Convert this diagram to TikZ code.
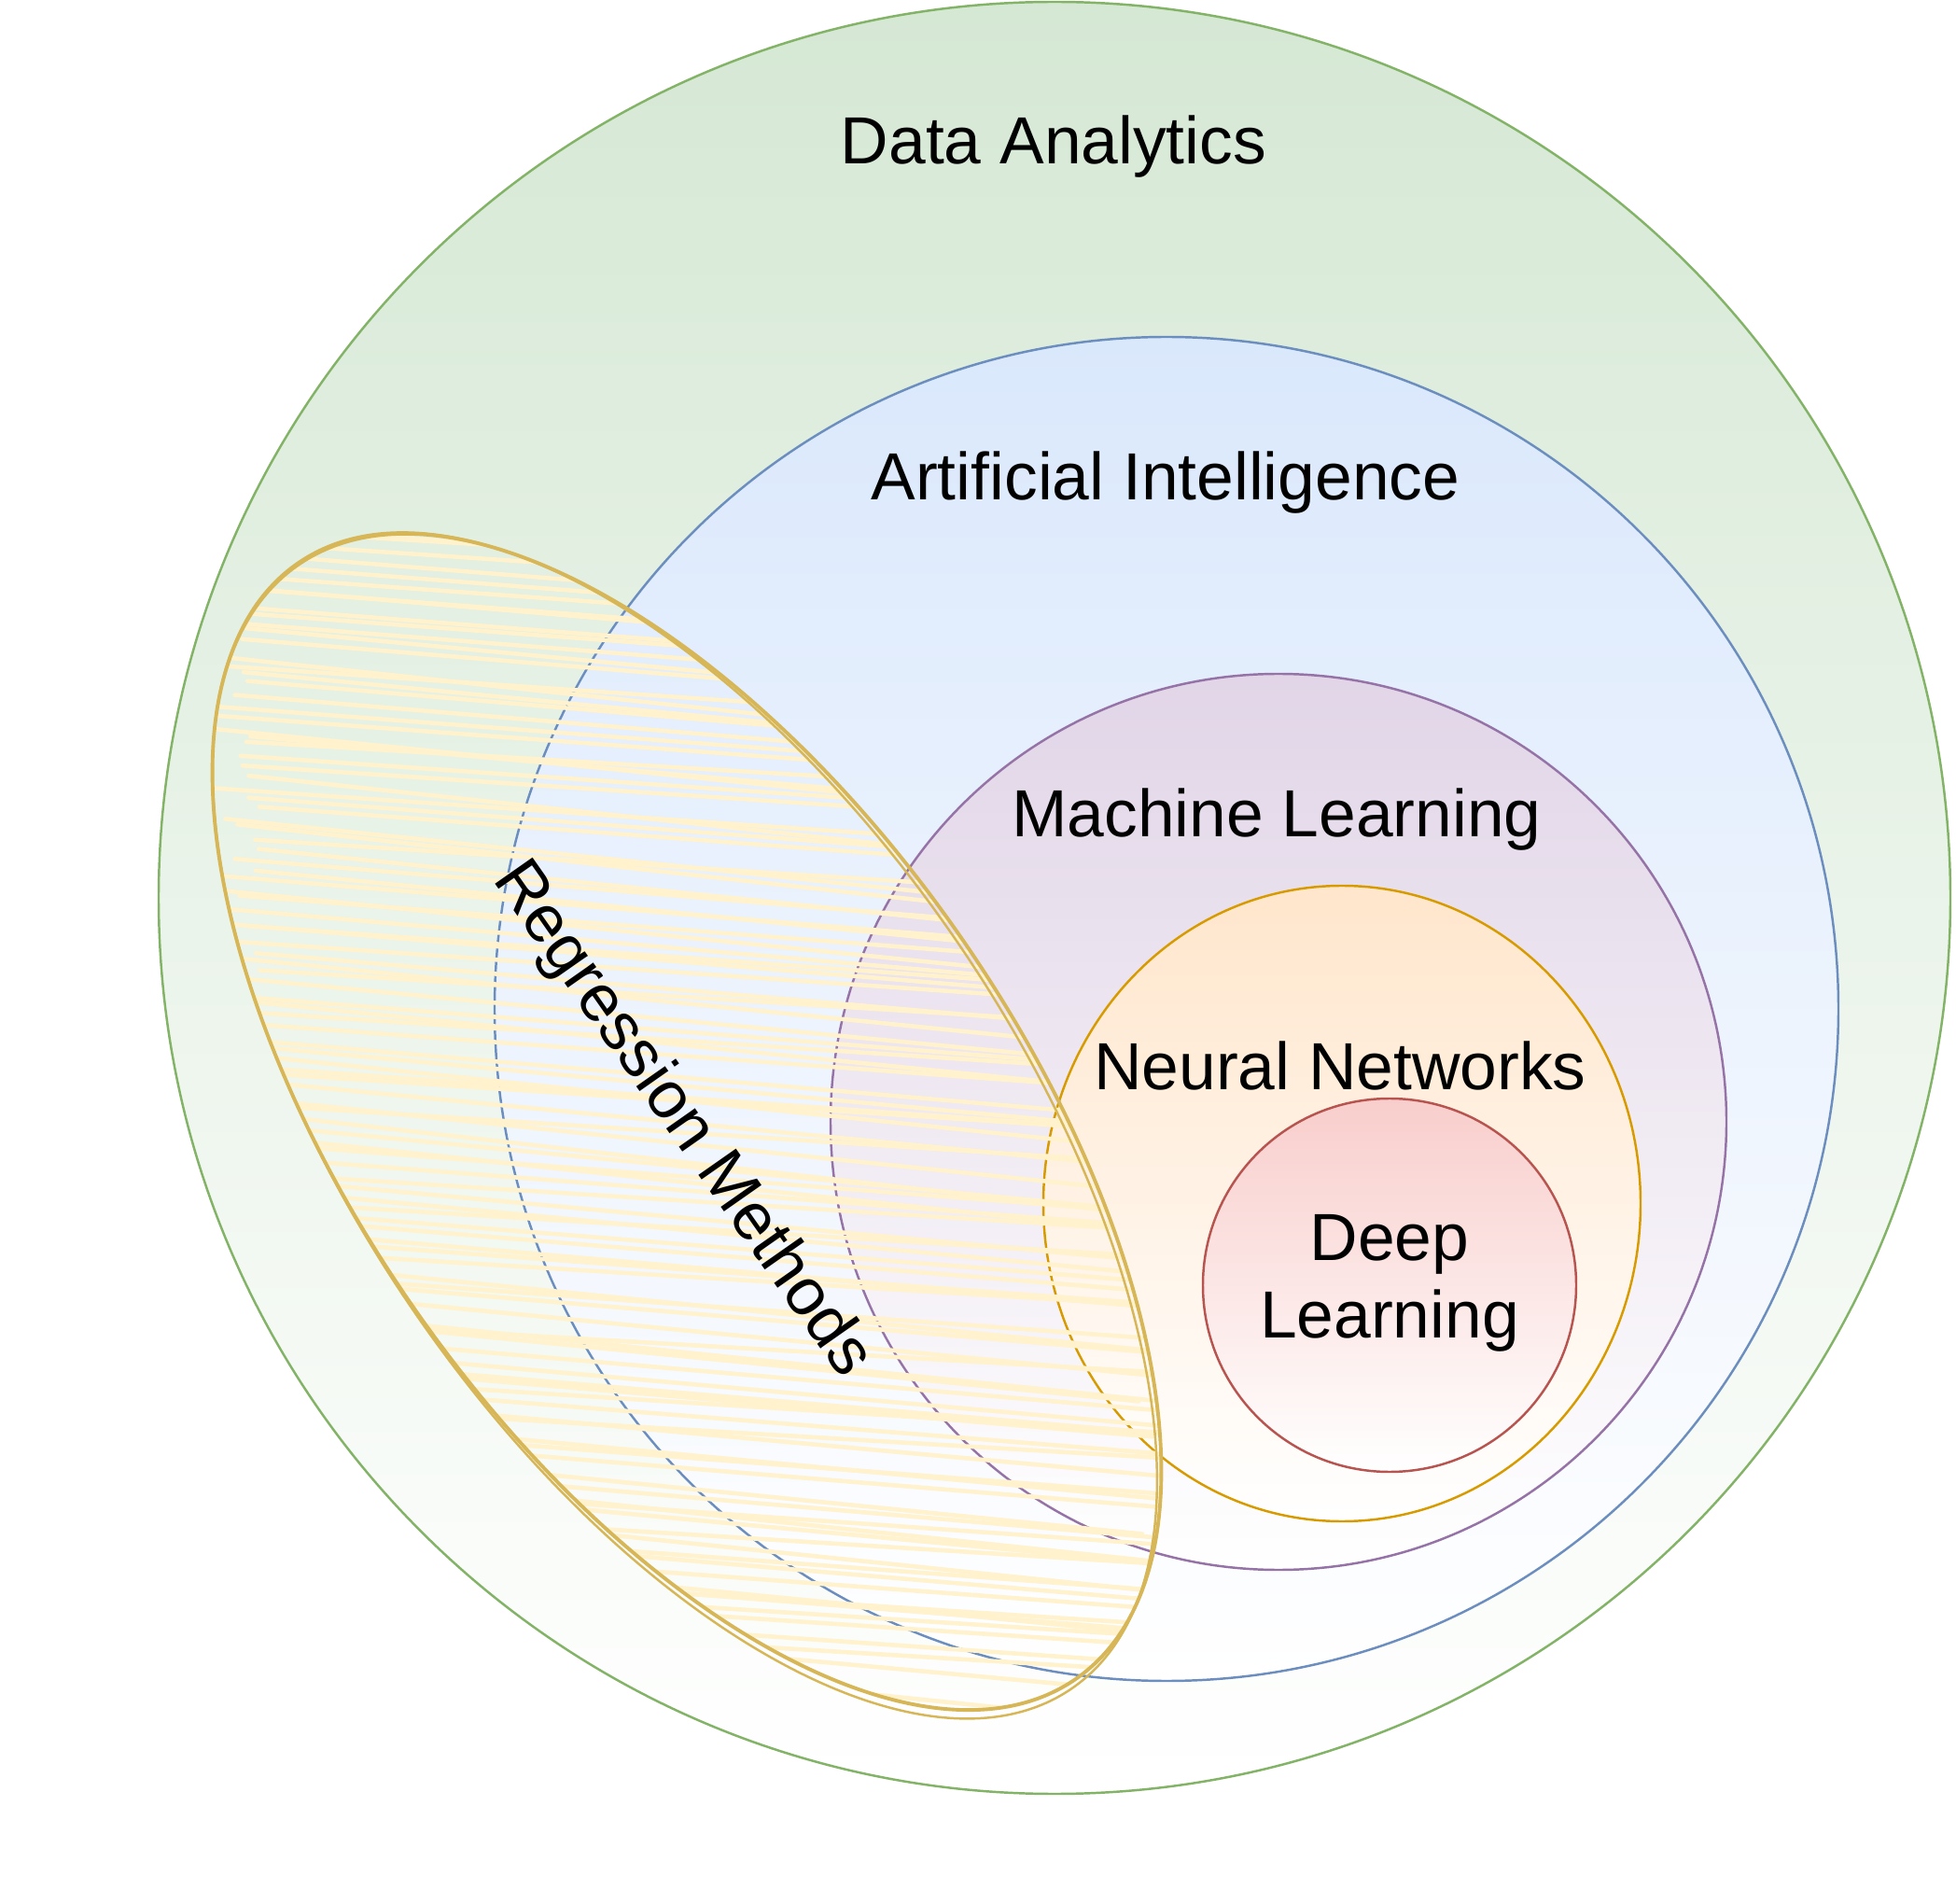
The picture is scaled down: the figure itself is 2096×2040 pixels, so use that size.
\documentclass[tikz,border=0pt]{standalone}
\usepackage{fontspec}
\setmainfont{Liberation Sans}
\usepackage{tikz}
\usetikzlibrary{calc}
\definecolor{dafill}{HTML}{D5E8D4}
\definecolor{daline}{HTML}{82B366}
\definecolor{aifill}{HTML}{DAE8FC}
\definecolor{ailine}{HTML}{6C8EBF}
\definecolor{mlfill}{HTML}{E1D5E7}
\definecolor{mlline}{HTML}{9673A6}
\definecolor{nnfill}{HTML}{FFE6CC}
\definecolor{nnline}{HTML}{D79B00}
\definecolor{dlfill}{HTML}{F8CECC}
\definecolor{dlline}{HTML}{B85450}
\definecolor{rmfill}{HTML}{FFF2CC}
\definecolor{rmline}{HTML}{D6B656}

\begin{document}
\begin{tikzpicture}[x=0.01cm,y=-0.01cm,
	venn/.style={line width=0.7pt,top color=#1fill,bottom color=white,draw=#1line},
	setname/.style={font=\fontsize{20.3}{23.7}\selectfont,inner sep=0pt,anchor=base},
	hatch/.style={rmfill,line width=1.3pt,line cap=round}]
	\fill[white] (0,0) rectangle (2096,2040);
	\useasboundingbox (0,0) rectangle (2096,2040);
	\draw[venn=da]	(1130,962) circle [radius=960];
	\draw[venn=ai]	(1250,1081) circle [radius=720];
	\draw[venn=ml]	(1370,1202) circle [radius=480];
	\draw[venn=nn]	(1438,1289.5) ellipse [x radius=320,y radius=340.5];
	\draw[venn=dl]	(1489,1377) circle [radius=200];
	\node[setname]	(datext) at (1129,176)	{Data Analytics};
	\node[setname]	(aitext) at (1249,536)	{Artificial Intelligence};
	\node[setname]	(mltext) at (1368,896.5)	{Machine Learning};
	\node[setname]	(nntext) at (1436,1168)	{Neural Networks};
	\node[setname,anchor=center,align=center]	(dltext) at (1489,1375)	{Deep\\Learning};
	\coordinate (rmc) at (736,1202);
	\begin{scope}
		\clip[rotate around={-55:(rmc)}] (rmc) ellipse [x radius=728,y radius=354];
		\pgfmathsetseed{12}
		\foreach \i in {0,...,124} {
			\pgfmathsetmacro{\ya}{490+\i*11+rand*4}
			\pgfmathsetmacro{\yb}{\ya+85+rand*25}
			\pgfmathsetmacro{\xa}{200+abs(rand)*80}
			\pgfmathsetmacro{\xb}{1300-abs(rand)*80}
			\draw[hatch] (\xa,\ya) -- (\xb,\yb);
		}
	\end{scope}
	\draw[rmline,line width=1.1pt,rotate around={-55:(rmc)}] (rmc) ellipse [x radius=728,y radius=354];
	\draw[rmline,line width=0.7pt,rotate around={-55.5:(rmc)}] ($(rmc)+(2,4)$) ellipse [x radius=732,y radius=352];
	\node[setname,anchor=center,rotate=-55]	(rmtext) at (730,1200)	{Regression Methods};
\end{tikzpicture}
\end{document}
